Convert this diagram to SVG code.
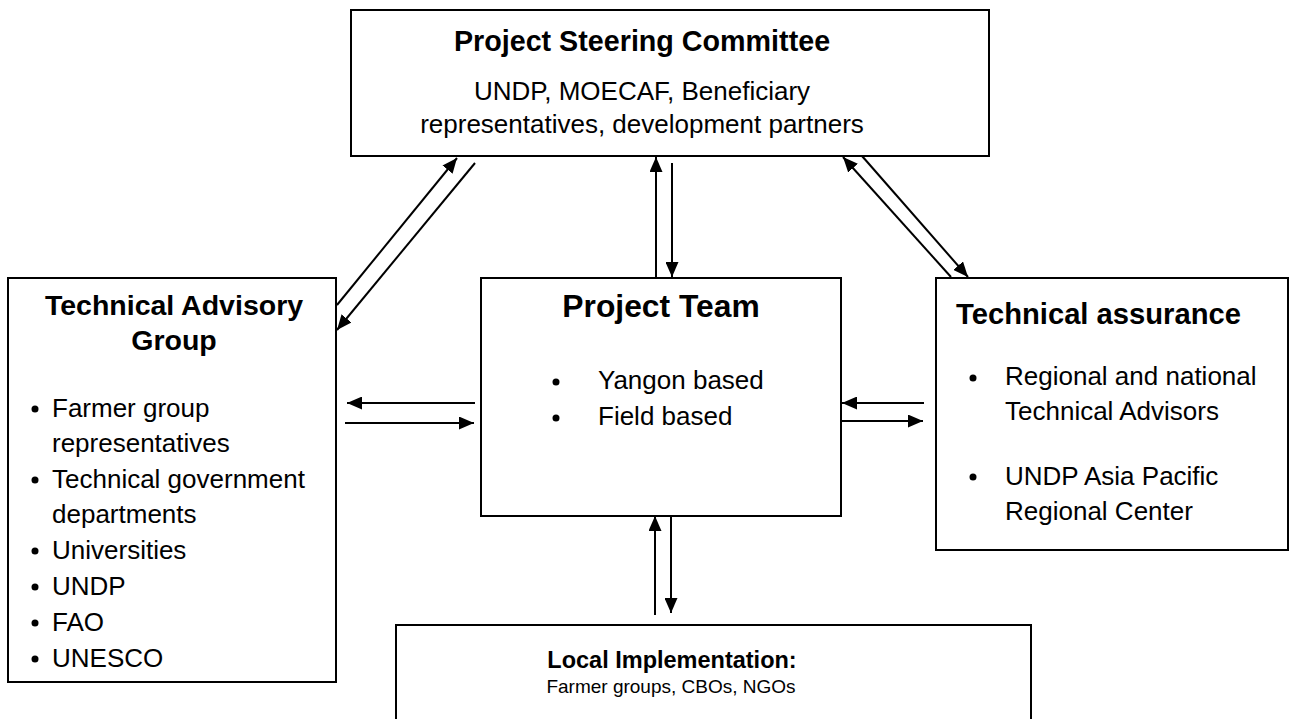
<svg xmlns="http://www.w3.org/2000/svg" width="1289" height="719" viewBox="0 0 1289 719">
<style>
.box{fill:#fff;stroke:#000;stroke-width:2}
.t{font-family:"Liberation Sans",Arial,sans-serif;fill:#000}
.b{font-weight:bold}
.c{text-anchor:middle}
.r{font-size:26px}
.ln{stroke:#000;stroke-width:2;fill:none;marker-end:url(#ah)}
</style>
<defs>
<marker id="ah" markerUnits="userSpaceOnUse" viewBox="0 0 15 13" markerWidth="15" markerHeight="13" refX="15" refY="6.5" orient="auto">
<path d="M0,0 L15,6.5 L0,13 z" fill="#000"/>
</marker>
</defs>
<rect width="1289" height="719" fill="#fff"/>
<g id="steering">
<rect class="box" x="351" y="10" width="638" height="146"/>
<text class="t b c" x="642" y="51" font-size="28.7">Project Steering Committee</text>
<text class="t c r" x="642" y="100">UNDP, MOECAF, Beneficiary</text>
<text class="t c r" x="642" y="133">representatives, development partners</text>
</g>
<g id="advisory">
<rect class="box" x="8" y="278" width="328" height="404"/>
<text class="t b c" x="174" y="315" font-size="28.5">Technical Advisory</text>
<text class="t b c" x="174" y="350" font-size="28.5">Group</text>
<g fill="#000">
<circle cx="35" cy="409" r="3.5"/><circle cx="35" cy="480" r="3.5"/><circle cx="35" cy="551" r="3.5"/><circle cx="35" cy="587" r="3.5"/><circle cx="35" cy="623" r="3.5"/><circle cx="35" cy="659" r="3.5"/>
</g>
<text class="t r" x="52" y="417">Farmer group</text>
<text class="t r" x="52" y="452">representatives</text>
<text class="t r" x="52" y="488">Technical government</text>
<text class="t r" x="52" y="523">departments</text>
<text class="t r" x="52" y="559">Universities</text>
<text class="t r" x="52" y="595">UNDP</text>
<text class="t r" x="52" y="631">FAO</text>
<text class="t r" x="52" y="667">UNESCO</text>
</g>
<g id="team">
<rect class="box" x="481" y="278" width="360" height="238"/>
<text class="t b c" x="661" y="317" font-size="31.8">Project Team</text>
<circle cx="556" cy="382" r="3.5" fill="#000"/>
<circle cx="556" cy="418" r="3.5" fill="#000"/>
<text class="t r" x="598" y="389">Yangon based</text>
<text class="t r" x="598" y="425">Field based</text>
</g>
<g id="assurance">
<rect class="box" x="936" y="278" width="352" height="272"/>
<text class="t b" x="956" y="324" font-size="29.2">Technical assurance</text>
<circle cx="973" cy="378" r="3.5" fill="#000"/>
<circle cx="973" cy="477" r="3.5" fill="#000"/>
<text class="t r" x="1005" y="385">Regional and national</text>
<text class="t r" x="1005" y="420">Technical Advisors</text>
<text class="t r" x="1005" y="485">UNDP Asia Pacific</text>
<text class="t r" x="1005" y="520">Regional Center</text>
</g>
<g id="local">
<rect class="box" x="396" y="625" width="635" height="120"/>
<text class="t b c" x="672" y="668" font-size="23.5">Local Implementation:</text>
<text class="t c" x="671" y="693" font-size="19">Farmer groups, CBOs, NGOs</text>
</g>
<g id="connectors">
<line class="ln" x1="337" y1="305" x2="457" y2="158"/>
<line class="ln" x1="475" y1="163" x2="337" y2="330"/>
<line class="ln" x1="656" y1="278" x2="656" y2="157"/>
<line class="ln" x1="672" y1="163" x2="672" y2="277"/>
<line class="ln" x1="951" y1="277" x2="843" y2="157"/>
<line class="ln" x1="862" y1="156" x2="968" y2="277"/>
<line class="ln" x1="475" y1="403" x2="347" y2="403"/>
<line class="ln" x1="345" y1="423" x2="474" y2="423"/>
<line class="ln" x1="924" y1="403" x2="842" y2="403"/>
<line class="ln" x1="842" y1="421" x2="923" y2="421"/>
<line class="ln" x1="655" y1="615" x2="655" y2="516"/>
<line class="ln" x1="671" y1="516" x2="671" y2="613"/>
</g>
</svg>
